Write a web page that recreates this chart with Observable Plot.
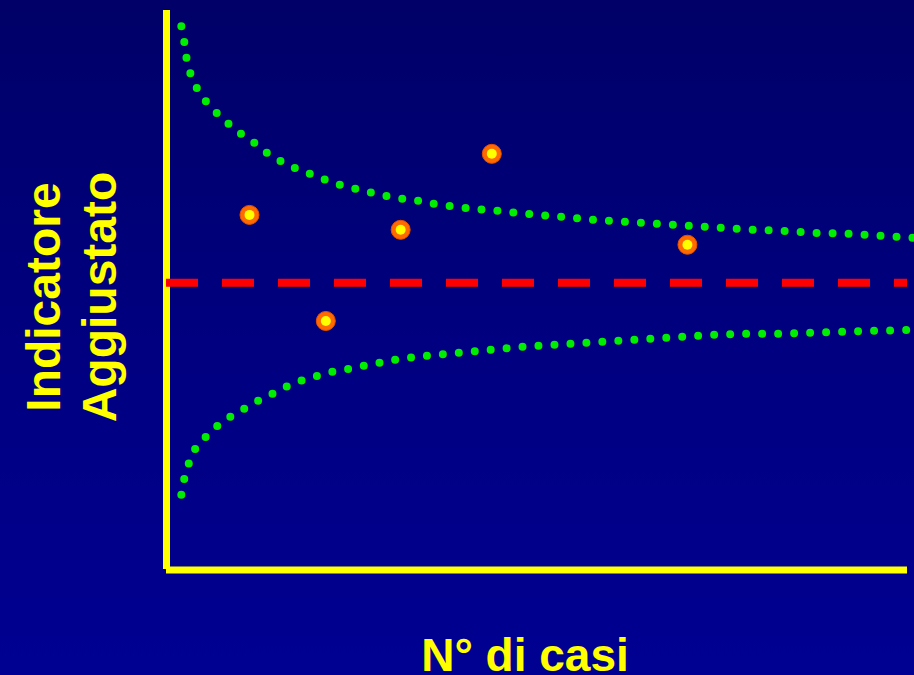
<!DOCTYPE html>
<html>
<head>
<meta charset="utf-8">
<script src="https://cdn.jsdelivr.net/npm/d3@7"></script>
<script src="https://cdn.jsdelivr.net/npm/@observablehq/plot@0.6"></script>
<style>
  html, body { margin: 0; padding: 0; background: #00007c; overflow: hidden; }
</style>
</head>
<body>
<div id="chart"></div>
<script>
// Axis titles
const xTitle = "N° di casi";
const yTitle = "Indicatore\nAggiustato";

// Reference (target) value of the adjusted indicator
const referenceValue = 0;

// Units (hospitals): number of cases vs. adjusted indicator
const pointCases = [11.2, 21.5, 31.6, 43.9, 70.3];
const pointIndicator = [23.7, -13.3, 18.5, 45.0, 13.3];

// Upper control limit
const upperCases = [2.0, 2.4, 2.7, 3.2, 4.1, 5.3, 6.8, 8.4, 10.1, 11.9, 13.6, 15.4, 17.3, 19.4, 21.5, 23.5, 25.5, 27.7, 29.7, 31.9, 34.0, 36.2, 40.5, 44.7, 49.0, 53.3, 57.6, 61.9, 66.3, 70.6, 74.9, 79.2, 83.5, 87.9, 92.2, 96.5, 100.8];
const upperLimit = [89.5, 84.0, 78.4, 73.2, 67.9, 63.4, 59.2, 55.4, 51.9, 48.8, 45.3, 42.5, 40.1, 38.0, 35.9, 34.1, 32.8, 31.4, 30.3, 29.3, 28.6, 27.5, 26.1, 25.1, 24.0, 23.0, 22.0, 21.3, 20.6, 19.9, 19.2, 18.5, 18.1, 17.4, 17.1, 16.4, 15.7];

// Lower control limit
const lowerCases = [2.0, 2.4, 3.0, 3.9, 5.3, 6.9, 8.6, 10.5, 12.4, 14.3, 16.2, 18.2, 20.4, 22.4, 24.6, 26.7, 28.7, 30.9, 35.2, 39.5, 43.9, 48.0, 52.4, 56.7, 61.0, 65.5, 69.6, 74.0, 78.3, 82.6, 86.9, 91.2, 95.5, 99.9, 100.9];
const lowerLimit = [-73.9, -68.3, -63.1, -57.8, -53.7, -49.8, -46.7, -43.9, -41.1, -38.7, -36.2, -34.1, -32.4, -31.0, -30.0, -28.9, -27.9, -26.8, -25.4, -24.4, -23.3, -22.3, -21.6, -20.9, -20.2, -19.5, -18.8, -18.1, -17.8, -17.8, -17.4, -17.1, -16.7, -16.4, -16.0];

const points = pointCases.map((c, i) => ({cases: c, value: pointIndicator[i]}));
const upper = upperCases.map((c, i) => ({cases: c, value: upperLimit[i]}));
const lower = lowerCases.map((c, i) => ({cases: c, value: lowerLimit[i]}));

const YELLOW = "#ffff00";
const FONT = "'Liberation Sans', Arial, Helvetica, sans-serif";

const chart = Plot.plot({
  width: 914,
  height: 675,
  marginLeft: 166,
  marginRight: 7,
  marginTop: 10,
  marginBottom: 106,
  style: {
    background: "linear-gradient(to bottom, #000068 0%, #000080 50%, #000092 100%)",
    fontFamily: FONT,
    overflow: "visible"
  },
  x: {domain: [0, 100], axis: null},
  y: {domain: [-100, 95], axis: null},
  marks: [
    // Axis lines
    Plot.ruleX([0], {y1: -100, y2: 95, stroke: YELLOW, strokeWidth: 7}),
    Plot.ruleY([-100], {x1: 0, x2: 100, stroke: YELLOW, strokeWidth: 7, dy: 0.5}),
    // Reference line
    Plot.ruleY([referenceValue], {stroke: "#ff0000", strokeWidth: 8, strokeDasharray: "32 24"}),
    // Funnel limits (dotted)
    Plot.line(upper, {x: "cases", y: "value", curve: "catmull-rom", stroke: "#00ee00", strokeWidth: 8, strokeLinecap: "round", strokeDasharray: "0 16"}),
    Plot.line(lower, {x: "cases", y: "value", curve: "catmull-rom", stroke: "#00ee00", strokeWidth: 8, strokeLinecap: "round", strokeDasharray: "0 16"}),
    // Units
    Plot.dot(points, {x: "cases", y: "value", r: 9.5, fill: "#ff6a00", stroke: "#e85000", strokeWidth: 1}),
    Plot.dot(points, {x: "cases", y: "value", r: 5, fill: YELLOW}),
    // Axis titles
    Plot.text([xTitle], {frameAnchor: "bottom", text: d => d, dx: -12, dy: 87, fill: YELLOW, fontSize: 46, fontWeight: "bold", fontFamily: FONT, textAnchor: "middle", lineAnchor: "middle"}),
    Plot.text([yTitle], {frameAnchor: "left", text: d => d, rotate: -90, dx: -96, dy: 7, fill: YELLOW, fontSize: 48, fontWeight: "bold", fontFamily: FONT, textAnchor: "middle", lineAnchor: "middle", lineHeight: 1.16})
  ]
});

document.getElementById("chart").appendChild(chart);
</script>
</body>
</html>
